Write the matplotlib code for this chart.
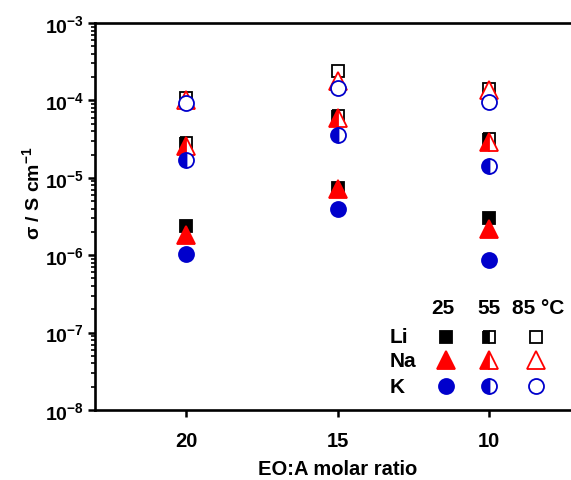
import matplotlib

matplotlib.use("Agg")
from matplotlib import pyplot as plt
from matplotlib.ticker import FixedLocator, LogLocator, NullFormatter

plt.rcParams["font.family"] = ["Liberation Sans", "DejaVu Sans"]
plt.rcParams["font.weight"] = "bold"
plt.rcParams["mathtext.fontset"] = "custom"
plt.rcParams["mathtext.rm"] = "Liberation Sans:bold"
plt.rcParams["mathtext.bf"] = "Liberation Sans:bold"
plt.rcParams["mathtext.default"] = "bf"

# EO:A molar ratio and conductivity (S/cm) at 25, 55, 85 °C
ratio = [20, 15, 10]
li_25 = [2.4e-6, 7.4e-6, 3.0e-6]
li_55 = [2.8e-5, 6.3e-5, 3.2e-5]
li_85 = [1.07e-4, 2.4e-4, 1.4e-4]
na_25 = [1.85e-6, 7.1e-6, 2.2e-6]
na_55 = [2.6e-5, 6.0e-5, 2.9e-5]
na_85 = [1.0e-4, 1.8e-4, 1.35e-4]
k_25 = [1.05e-6, 4.0e-6, 8.7e-7]
k_55 = [1.7e-5, 3.6e-5, 1.4e-5]
k_85 = [9.3e-5, 1.45e-4, 9.5e-5]

temps = ["25", "55", "85 °C"]
ions = ["Li", "Na", "K"]
yticks = [1e-8, 1e-7, 1e-6, 1e-5, 1e-4, 1e-3]
ytick_labels = [r"$10^{-8}$", r"$10^{-7}$", r"$10^{-6}$", r"$10^{-5}$", r"$10^{-4}$", r"$10^{-3}$"]

blue = "#0000cc"
styles = {
    "Li": dict(marker="s", color="black", ms=9.3),
    "Na": dict(marker="^", color="red", ms=12.5),
    "K": dict(marker="o", color=blue, ms=10.8),
}
fills = ["full", "left", "none"]
series = {
    "Li": [li_25, li_55, li_85],
    "Na": [na_25, na_55, na_85],
    "K": [k_25, k_55, k_85],
}

fig = plt.figure(figsize=(5.71, 4.81), dpi=100)
ax = fig.add_axes([95 / 571, 1 - 411 / 481, 1 - 95 / 571, 387 / 481])


def mark(ax, x, y, ion, fill, **kw):
    st = styles[ion]
    ax.plot(
        x, y, linestyle="none", marker=st["marker"], markersize=st["ms"],
        markeredgecolor=st["color"], markeredgewidth=1.3,
        markerfacecolor=st["color"] if fill != "none" else "white",
        markerfacecoloralt="white", fillstyle=fill if fill != "none" else "full",
        clip_on=False, **kw,
    )


for ion in ions:
    for vals, fill in zip(series[ion], fills):
        mark(ax, ratio, vals, ion, fill)

# hand-made key: temperature columns, ion rows
col_x = [0.737, 0.828, 0.926]
row_y = [0.189, 0.129, 0.062]
head_x = [0.731, 0.828, 0.931]
for hx, t in zip(head_x, temps):
    ax.text(hx, 0.266, t, transform=ax.transAxes, ha="center", va="center",
            fontsize=15, fontweight="bold")
for ry, ion in zip(row_y, ions):
    ax.text(0.62, ry, ion, transform=ax.transAxes, ha="left", va="center",
            fontsize=15, fontweight="bold")
    for cx, fill in zip(col_x, fills):
        mark(ax, [cx], [ry], ion, fill, transform=ax.transAxes)

ax.set_yscale("log")
ax.set_ylim(1e-8, 1e-3)
ax.set_xlim(23, 7.3)
ax.yaxis.set_major_locator(FixedLocator(yticks))
ax.set_yticklabels(ytick_labels)
ax.yaxis.set_minor_locator(LogLocator(base=10, subs=range(2, 10), numticks=20))
ax.yaxis.set_minor_formatter(NullFormatter())
ax.set_xticks(ratio)
ax.set_xticklabels([str(r) for r in ratio])

for s in ["left", "bottom", "top"]:
    ax.spines[s].set_linewidth(1.9)
ax.spines["right"].set_visible(False)
ax.tick_params(which="major", direction="out", length=5, width=1.8,
               labelsize=14.5, pad=3)
ax.tick_params(which="minor", direction="out", length=3, width=1.2)
ax.tick_params(axis="x", pad=10)
ax.tick_params(axis="y", labelsize=14)
for lab in ax.get_xticklabels() + ax.get_yticklabels():
    lab.set_fontweight("bold")

ax.set_ylabel(r"σ / S cm$^{-1}$", fontsize=14, fontweight="bold")
ax.yaxis.set_label_coords(-0.108, 0.563)
ax.set_xlabel("EO:A molar ratio", fontsize=14.5, fontweight="bold")
ax.xaxis.set_label_coords((338 - 95) / 476, -0.127)

plt.savefig("out.png", dpi=100)
